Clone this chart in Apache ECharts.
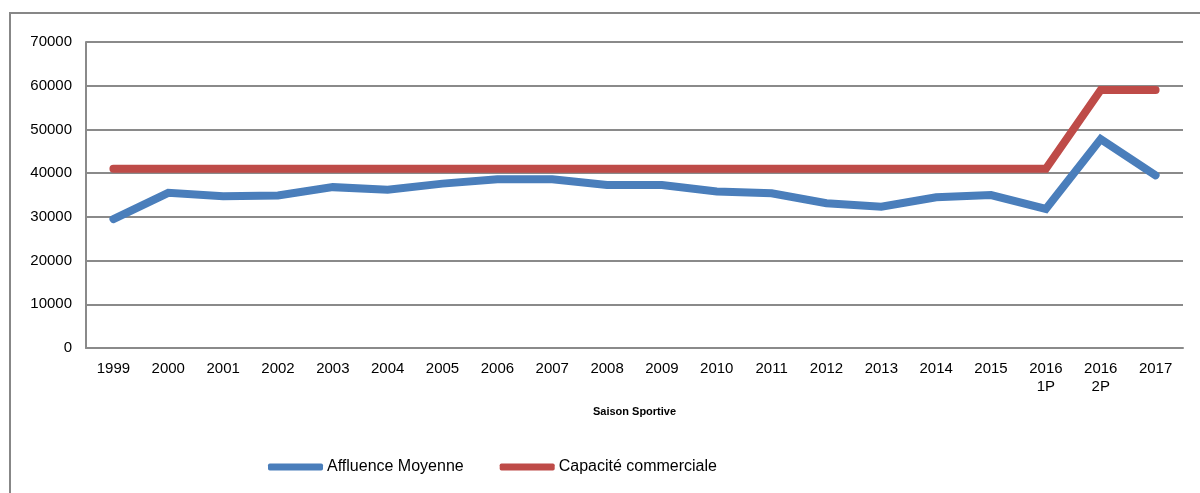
<!DOCTYPE html>
<html>
<head>
<meta charset="utf-8">
<script src="https://cdn.jsdelivr.net/npm/echarts@6/dist/echarts.min.js"></script>
<style>
  html, body { margin: 0; padding: 0; background: #fff; }
  #chart { width: 1200px; height: 493px; }
</style>
</head>
<body>
<div id="chart"></div>
<script>
// saisons
var seasons = ['1999', '2000', '2001', '2002', '2003', '2004', '2005', '2006', '2007', '2008',
  '2009', '2010', '2011', '2012', '2013', '2014', '2015', '2016\n1P', '2016\n2P', '2017']
var affluence = [29500, 35500, 34700, 34900, 36800, 36200, 37600, 38600, 38600, 37300,
  37300, 35800, 35400, 33100, 32300, 34500, 35000, 31800, 47800, 39500]
var capacite = [41000, 41000, 41000, 41000, 41000, 41000, 41000, 41000, 41000, 41000,
  41000, 41000, 41000, 41000, 41000, 41000, 41000, 41000, 59000, 59000]
var seriesNames = ['Affluence Moyenne', 'Capacité commerciale']

var chart = echarts.init(document.getElementById('chart'))
var font = 'Liberation Sans, Arial, sans-serif'

var option = {
  animation: false,
  textStyle: { fontFamily: font },
  graphic: [
    {
      // cadre du graphique
      type: 'rect',
      shape: { x: 10, y: 13, width: 1250, height: 600 },
      style: { fill: 'none', stroke: '#878787', lineWidth: 2 },
      silent: true
    }
  ],
  legend: {
    bottom: 13,
    left: 263,
    itemWidth: 55,
    itemHeight: 7,
    itemGap: 36,
    icon: 'roundRect',
    textStyle: { fontSize: 16, color: '#000', fontFamily: font, padding: [0, 0, 0, -1] },
    data: seriesNames
  },
  grid: {
    left: 86,
    right: 17,
    top: 42,
    bottom: 145,
    containLabel: false
  },
  xAxis: {
    type: 'category',
    data: seasons,
    boundaryGap: true,
    name: 'Saison Sportive',
    nameLocation: 'middle',
    nameGap: 58,
    nameTextStyle: { fontSize: 11, fontWeight: 'bold', color: '#000', fontFamily: font },
    axisLine: { show: true, lineStyle: { color: '#8a8a8a', width: 2 } },
    axisTick: { show: false },
    axisLabel: { color: '#000', fontSize: 15, margin: 12, lineHeight: 18, interval: 0, fontFamily: font }
  },
  yAxis: {
    type: 'value',
    min: 0,
    max: 70000,
    interval: 10000,
    axisLine: { show: true, lineStyle: { color: '#8a8a8a', width: 2 } },
    axisTick: { show: false },
    axisLabel: {
      color: '#000',
      fontSize: 15,
      margin: 14,
      fontFamily: font,
      formatter: function (v) { return String(v) }
    },
    splitLine: { show: true, lineStyle: { color: '#8a8a8a', width: 2 } }
  },
  series: [
    {
      name: seriesNames[0],
      type: 'line',
      data: affluence,
      symbol: 'none',
      color: '#4a7ebb',
      lineStyle: { width: 8, cap: 'round', join: 'miter' }
    },
    {
      name: seriesNames[1],
      type: 'line',
      data: capacite,
      symbol: 'none',
      color: '#be4b48',
      lineStyle: { width: 8, cap: 'round', join: 'miter' }
    }
  ]
}

chart.setOption(option)
</script>
</body>
</html>
